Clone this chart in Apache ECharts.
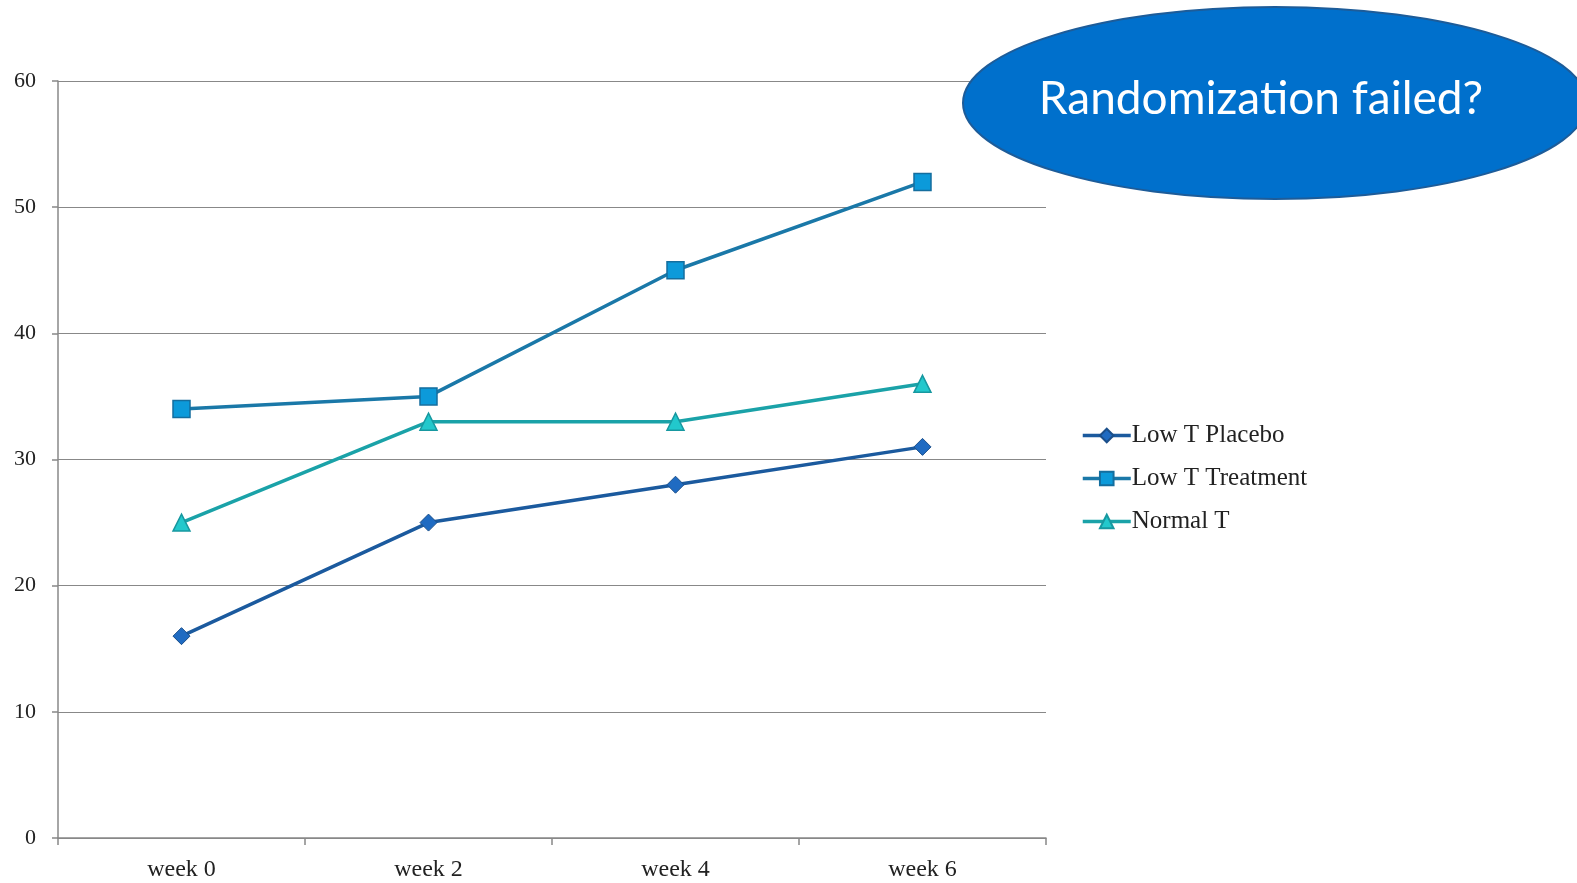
<!DOCTYPE html>
<html>
<head>
<meta charset="utf-8">
<script src="https://cdn.jsdelivr.net/npm/echarts@6/dist/echarts.min.js"></script>
<style>
  html, body { margin: 0; padding: 0; background: #fff; }
  #chart { width: 1577px; height: 883px; }
</style>
</head>
<body>
<div id="chart"></div>
<script>
const weeks = ["week 0", "week 2", "week 4", "week 6"];
const lowTPlacebo = [16, 25, 28, 31];
const lowTTreatment = [34, 35, 45, 52];
const normalT = [25, 33, 33, 36];

const serif = "'Liberation Serif', 'DejaVu Serif', serif";

const chart = echarts.init(document.getElementById("chart"));
chart.setOption({
  animation: false,
  grid: { left: 58, right: 531, top: 81, bottom: 45, containLabel: false },
  xAxis: {
    type: "category",
    data: weeks,
    boundaryGap: true,
    axisLine: { lineStyle: { color: "#888", width: 1.5 } },
    axisTick: { show: true, length: 7, lineStyle: { color: "#888", width: 1.5 } },
    axisLabel: { color: "#222", fontFamily: serif, fontSize: 24, margin: 20 }
  },
  yAxis: {
    type: "value",
    min: 0,
    max: 60,
    interval: 10,
    axisLine: { show: true, lineStyle: { color: "#888", width: 1.5 } },
    axisTick: { show: true, length: 6, lineStyle: { color: "#888", width: 1.5 } },
    axisLabel: { color: "#222", fontFamily: serif, fontSize: 22, margin: 22 },
    splitLine: { lineStyle: { color: "#888", width: 1.2 } }
  },
  legend: {
    orient: "vertical",
    left: 1076,
    top: 418,
    itemGap: 18,
    itemWidth: 48,
    itemHeight: 17,
    lineStyle: { width: 3.5 },
    textStyle: { color: "#222", fontFamily: serif, fontSize: 25, padding: [0, 0, 0, -4] },
    data: ["Low T Placebo", "Low T Treatment", "Normal T"]
  },
  series: [
    {
      name: "Low T Placebo",
      type: "line",
      data: lowTPlacebo,
      symbol: "diamond",
      symbolSize: 17,
      lineStyle: { color: "#1B5A9E", width: 3.5 },
      itemStyle: { color: "#1F6BC2", borderColor: "#1B4F8A", borderWidth: 1 }
    },
    {
      name: "Low T Treatment",
      type: "line",
      data: lowTTreatment,
      symbol: "rect",
      symbolSize: 17,
      lineStyle: { color: "#1A78A8", width: 3.5 },
      itemStyle: { color: "#0C9ADA", borderColor: "#146E9E", borderWidth: 1.5 }
    },
    {
      name: "Normal T",
      type: "line",
      data: normalT,
      symbol: "triangle",
      symbolSize: 17,
      lineStyle: { color: "#1AA2A8", width: 3.5 },
      itemStyle: { color: "#22C8CC", borderColor: "#1798A0", borderWidth: 1.5 }
    }
  ],
  graphic: [
    {
      type: "ellipse",
      shape: { cx: 1275, cy: 103, rx: 312, ry: 96 },
      style: { fill: "#0070CC", stroke: "#1D5C99", lineWidth: 2 },
      z: 100
    },
    {
      type: "text",
      x: 1261,
      y: 99,
      style: {
        text: "Randomization failed?",
        fill: "#fff",
        align: "center",
        verticalAlign: "middle",
        font: "46px Lato, 'Noto Sans', sans-serif"
      },
      z: 101
    }
  ]
});
</script>
</body>
</html>
